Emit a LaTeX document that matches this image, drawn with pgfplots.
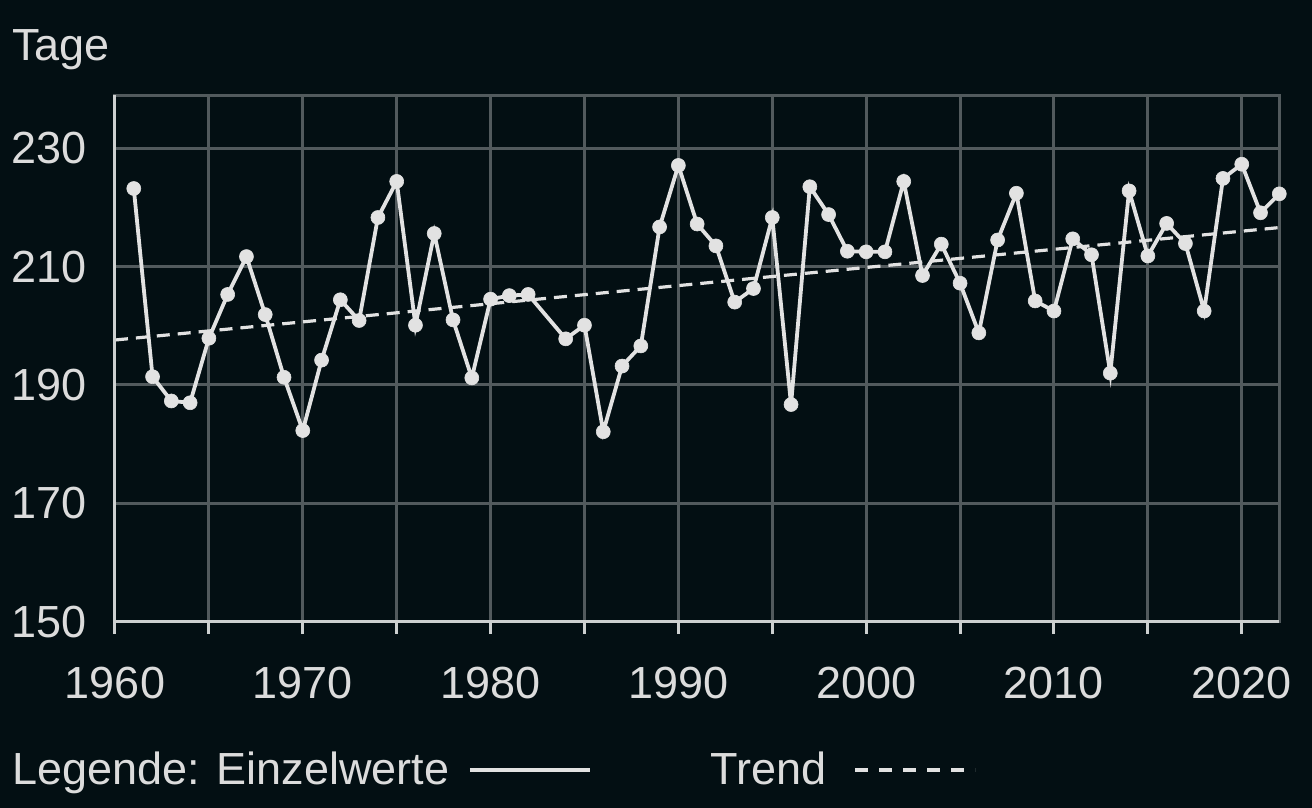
\documentclass[border=0pt]{standalone}
\usepackage{fontspec}
\setmainfont{Liberation Sans}
\usepackage{pgfplots}
\pgfplotsset{compat=1.18}
\definecolor{bg}{RGB}{3,15,19}
\definecolor{gridc}{RGB}{82,90,93}
\definecolor{axisc}{RGB}{205,208,208}
\definecolor{linec}{RGB}{226,226,226}
\definecolor{textc}{RGB}{220,220,220}
\newcommand{\fs}{\fontsize{22.5}{27}\selectfont}
\begin{document}
\begin{tikzpicture}
\fill[bg] (0,0) rectangle (656pt,-404pt);
\begin{axis}[
  at={(57.5pt,-310.85pt)}, anchor=south west,
  scale only axis, width=582.15pt, height=263.35pt,
  xmin=1960, xmax=2022, ymin=150, ymax=239,
  clip=false,
  xtick={1960,1970,...,2020},
  minor xtick={1965,1975,...,2015},
  ytick={150,170,...,230},
  grid=both,
  major grid style={gridc, line width=1.5pt},
  minor grid style={gridc, line width=1.5pt},
  axis line style={gridc, line width=1.5pt},
  xtick pos=left, ytick pos=left,
  tick align=outside,
  major tick length=6pt, minor tick length=6pt,
  xtick style={axisc, line width=1.5pt},
  minor tick style={axisc, line width=1.5pt},
  ytick style={draw=none},
  /pgf/number format/assume math mode=true,
  /pgf/number format/1000 sep={},
  tick label style={font=\fs, text=textc},
  xticklabel style={inner sep=0pt, anchor=north, yshift=-16.5pt},
  yticklabel style={inner sep=0pt, anchor=east, xshift=-8pt},
  ylabel={Tage},
  ylabel style={rotate=-90, anchor=base west, inner sep=0pt, font=\fs, text=textc,
    at={(axis description cs:-0.0885,1.0646)}},
  legend columns=2,
  legend plot pos=right,
  legend image code/.code={\draw[#1] (0pt,0pt) -- (60pt,0pt);},
  legend style={at={(axis description cs:-0.0885,-0.2816)}, anchor=west,
    draw=none, fill=none, text=textc, font=\fs, inner sep=0pt,
    nodes={inner sep=0pt},
    /tikz/every odd column/.append style={column sep=9.5pt},
    /tikz/every even column/.append style={column sep=59.5pt}},
  after end axis/.code={
    \draw[axisc, line width=1.5pt] (rel axis cs:0,1) -- (rel axis cs:0,0) -- (rel axis cs:1,0);
  },
]
\addplot[linec, line width=1.6pt, dash pattern=on 6.5pt off 4pt, forget plot]
  coordinates {(1960,197.6) (2022,216.6)};
\addplot[linec, line width=1.9pt, mark=*, mark size=3.5pt,
  mark options={solid, fill=linec, draw=linec, line width=0.3pt}, forget plot]
  coordinates {
(1961,223.2) (1962,191.4) (1963,187.3) (1964,187.0) (1965,197.9)
(1966,205.3) (1967,211.7) (1968,201.9) (1969,191.3) (1970,182.3)
(1971,194.2) (1972,204.4) (1973,200.9) (1974,218.3) (1975,224.4)
(1976,200.1) (1977,215.6) (1978,201.0) (1979,191.2) (1980,204.5)
(1981,205.1) (1982,205.3) (1984,197.8) (1985,200.1)
(1986,182.1) (1987,193.2) (1988,196.6) (1989,216.7) (1990,227.1)
(1991,217.2) (1992,213.5) (1993,204.0) (1994,206.3) (1995,218.3)
(1996,186.7) (1997,223.5) (1998,218.8) (1999,212.6) (2000,212.5)
(2001,212.5) (2002,224.4) (2003,208.5) (2004,213.8) (2005,207.2)
(2006,198.8) (2007,214.5) (2008,222.4) (2009,204.2) (2010,202.5)
(2011,214.7) (2012,212.0) (2013,192.0) (2014,222.8) (2015,211.8)
(2016,217.3) (2017,213.9) (2018,202.5) (2019,224.9) (2020,227.3)
(2021,219.1) (2022,222.3)
  };
\addlegendimage{linec, line width=1.6pt}
\addlegendentry{Legende: Einzelwerte}
\addlegendimage{linec, line width=1.6pt, dash pattern=on 6.5pt off 5.5pt}
\addlegendentry{Trend\kern4pt\null}
\end{axis}
\end{tikzpicture}
\end{document}
